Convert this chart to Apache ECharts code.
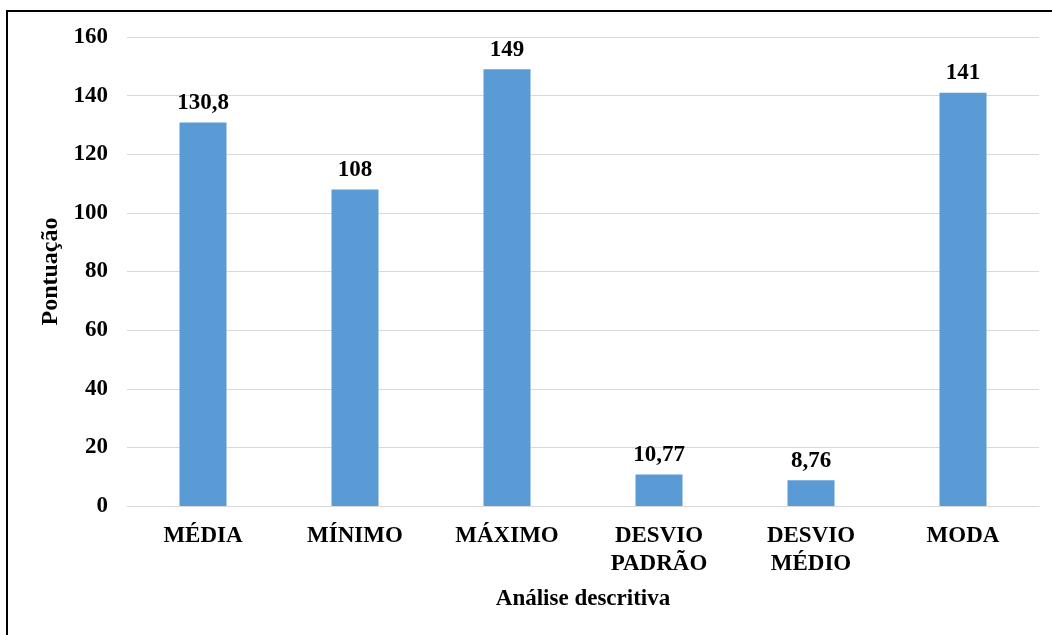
<!DOCTYPE html>
<html><head><meta charset="utf-8">
<script src="https://cdn.jsdelivr.net/npm/echarts@6/dist/echarts.min.js"></script>
<style>html,body{margin:0;padding:0;background:#fff}#c{width:1052px;height:635px}</style>
</head><body><div id="c"></div>
<script>
const categories = ['MÉDIA', 'MÍNIMO', 'MÁXIMO', 'DESVIO\nPADRÃO', 'DESVIO\nMÉDIO', 'MODA'];
const values = [130.8, 108, 149, 10.77, 8.76, 141];
const yTicks = { min: 0, max: 160, interval: 20 };
const FONT = '"Liberation Serif", "Times New Roman", serif';
const chart = echarts.init(document.getElementById('c'), null, { renderer: 'canvas' });
chart.setOption({
  animation: false,
  backgroundColor: '#fff',
  graphic: [{
    type: 'rect', shape: { x: 7, y: 11, width: 1100, height: 700 },
    style: { fill: 'none', stroke: '#000', lineWidth: 2 }, silent: true
  }],
  grid: { left: 127, right: 13, top: 37, bottom: 129 },
  xAxis: {
    type: 'category', data: categories,
    name: 'Análise descritiva', nameLocation: 'middle', nameGap: 82,
    nameTextStyle: { fontFamily: FONT, fontWeight: 'bold', fontSize: 23, color: '#000' },
    axisLine: { show: true, lineStyle: { color: '#d9d9d9', width: 1 } },
    axisTick: { show: false },
    axisLabel: { fontFamily: FONT, fontWeight: 'bold', fontSize: 23, color: '#000', margin: 16, lineHeight: 28, interval: 0 }
  },
  yAxis: {
    type: 'value', min: yTicks.min, max: yTicks.max, interval: yTicks.interval,
    name: 'Pontuação', nameLocation: 'middle', nameGap: 64, nameRotate: 90,
    nameTextStyle: { fontFamily: FONT, fontWeight: 'bold', fontSize: 24, color: '#000' },
    axisLine: { show: false }, axisTick: { show: false },
    splitLine: { lineStyle: { color: '#d9d9d9', width: 1 } },
    axisLabel: { fontFamily: FONT, fontWeight: 'bold', fontSize: 23, color: '#000', margin: 19 }
  },
  series: [{
    type: 'bar', data: values, barWidth: 47,
    itemStyle: { color: '#5B9BD5' },
    label: {
      show: true, position: 'top', distance: 8,
      fontFamily: FONT, fontWeight: 'bold', fontSize: 23, color: '#000',
      formatter: p => String(p.value).replace('.', ',')
    }
  }]
});
</script></body></html>
